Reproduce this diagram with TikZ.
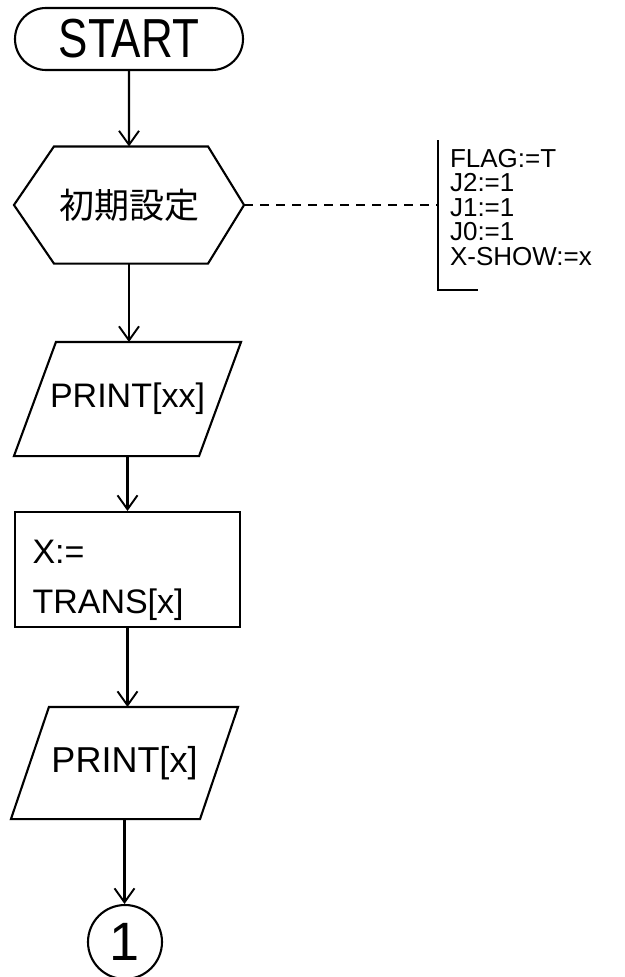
\documentclass[tikz,border=0pt]{standalone}
\usepackage{fontspec}
\setmainfont{Liberation Sans}
\newfontfamily\cjk{Noto Sans CJK JP}
\usetikzlibrary{arrows.meta,shapes.misc,calc}

\begin{document}
\begin{tikzpicture}[x=1pt,y=-1pt,line width=2.1pt,
  flow/.style={-{Straight Barb[length=14pt,width=20pt,line width=1.9pt]}},
  anchorbox/.style={rectangle,inner sep=0pt},
  label34/.style={font=\fontsize{34}{34}\selectfont}]
\useasboundingbox (0,0) rectangle (624,977);

% terminal
\node[rounded rectangle,draw,inner sep=0pt,minimum width=228pt,minimum height=62pt]
  (start) at (129,39) {\fontsize{44}{44}\selectfont\scalebox{1}[1.25]{START}};

% preparation (hexagon)
\node[anchorbox,minimum width=228pt,minimum height=115pt] (hex) at (129,205)
  {\cjk\fontsize{35}{35}\selectfont 初期設定};
\draw (hex.west) -- ($(hex.north west)+(40,0)$) -- ($(hex.north east)+(-36,0)$)
  -- (hex.east) -- ($(hex.south east)+(-36,0)$) -- ($(hex.south west)+(40,0)$) -- cycle;

% input/output 1
\node[anchorbox,minimum width=225pt,minimum height=112pt,label34] (p1) at (127.5,399) {PRINT[xx]};
\draw ($(p1.north west)+(42,0)$) -- (p1.north east) -- ($(p1.south east)+(-42,0)$)
  -- (p1.south west) -- cycle;

% process
\node[draw,rectangle,minimum height=115pt,text width=190pt,inner xsep=17.5pt,
  align=left,font=\fontsize{34}{50}\selectfont] (proc) at (127.5,569.5)
  {\rule{0pt}{45pt}X:=\\TRANS[x]};

% input/output 2
\node[anchorbox,minimum width=225pt,minimum height=110pt,font=\fontsize{36}{36}\selectfont] (p2) at (124.5,763) {PRINT[x]};
\draw ($(p2.north west)+(38,0)$) -- (p2.north east) -- ($(p2.south east)+(-38,0)$)
  -- (p2.south west) -- cycle;

% connector
\node[draw,circle,minimum size=74pt,inner sep=0pt,font=\fontsize{54}{54}\selectfont] (c1) at (125,942) {1};

% flow lines
\draw[flow] (start) -- (hex);
\draw[flow] (hex.south) -- (hex.south |- p1.north);
\draw[flow] (p1.south) -- (proc.north);
\draw[flow] (proc.south) -- (proc.south |- p2.north);
\draw[flow] (p2.south) -- (p2.south |- c1.north);

% annotation
\coordinate (btop) at (438,140);
\coordinate (bbot) at (438,290);
\draw[line width=1.9pt] (btop) -- (bbot) -- ++(40,0);
\node[anchor=north west,align=left,inner sep=0pt,font=\fontsize{26}{24.5}\selectfont]
  (note) at (449,148) {FLAG:=T\\J2:=1\\J1:=1\\J0:=1\\X-SHOW:=x};
\draw[line width=1.6pt,dash pattern=on 9pt off 7pt] (hex.east) -- (hex.east -| btop);
\end{tikzpicture}
\end{document}
